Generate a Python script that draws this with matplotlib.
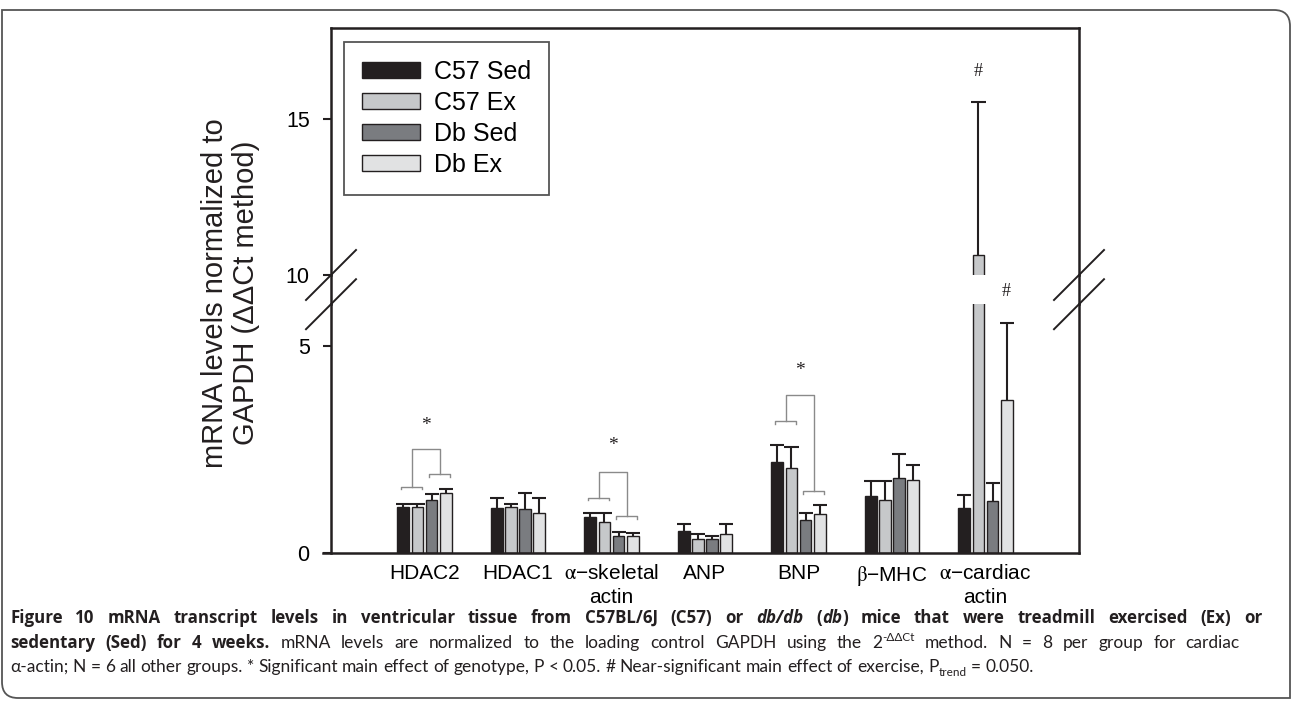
import matplotlib
matplotlib.use("Agg")
import matplotlib.pyplot as plt
import numpy as np
from matplotlib.path import Path
from matplotlib.patches import PathPatch
from matplotlib.lines import Line2D
from matplotlib.transforms import IdentityTransform

# ---------------- data ----------------
categories = ["HDAC2", "HDAC1", r"$\mathrm{\alpha}$−skeletal" + "\nactin", "ANP", "BNP",
              r"$\mathrm{\beta}$−MHC", r"$\mathrm{\alpha}$−cardiac" + "\nactin"]
series = ["C57 Sed", "C57 Ex", "Db Sed", "Db Ex"]
c57_sed = [1.09, 1.07, 0.85, 0.52, 2.18, 1.36, 1.07]
c57_ex = [1.11, 1.09, 0.74, 0.32, 2.04, 1.26, 10.64]
db_sed = [1.27, 1.06, 0.41, 0.33, 0.79, 1.79, 1.25]
db_ex = [1.43, 0.96, 0.40, 0.46, 0.94, 1.76, 3.68]
c57_sed_err = [0.09, 0.24, 0.10, 0.16, 0.42, 0.37, 0.32]
c57_ex_err = [0.07, 0.08, 0.22, 0.14, 0.51, 0.47, 4.93]
db_sed_err = [0.14, 0.39, 0.09, 0.08, 0.16, 0.59, 0.44]
db_ex_err = [0.10, 0.37, 0.08, 0.22, 0.21, 0.35, 1.87]

# genotype significance brackets (group index, left/right small bracket, top, star)
sig_groups = [0, 2, 4]
sig_left_y = [1.59, 1.33, 3.18]
sig_right_y = [1.89, 0.88, 1.49]
sig_top_y = [2.51, 1.95, 3.80]
sig_star_y = [3.06, 2.58, 4.39]

# near-significant exercise marks: (group, series, y)
hash_marks = [(6, 1, 16.53), (6, 3, 6.30)]

means = [c57_sed, c57_ex, db_sed, db_ex]
errs = [c57_sed_err, c57_ex_err, db_sed_err, db_ex_err]
colors = ["#231f20", "#c6c8ca", "#7a7c80", "#e1e2e3"]
edge = "#231f20"

plt.rcParams["font.family"] = ["Liberation Sans", "DejaVu Sans"]
plt.rcParams["mathtext.fontset"] = "stix"

W, H = 1293, 701
fig = plt.figure(figsize=(W / 100, H / 100), dpi=100)

L, R = 331, 1079
low_bot, low_top = 552.6, 304.2
up_bot, up_top = 275.0, 28.0
up_scale = 31.14  # px per unit in upper panel

ax_low = fig.add_axes([L / W, 1 - low_bot / H, (R - L) / W, (low_bot - low_top) / H])
ax_up = fig.add_axes([L / W, 1 - up_bot / H, (R - L) / W, (up_bot - up_top) / H])

ax_low.set_ylim(0, 6)
ax_up.set_ylim(10, 10 + (up_bot - up_top) / up_scale)
for ax in (ax_low, ax_up):
    ax.set_xlim(-1, 7)
    ax.patch.set_alpha(0)

x = np.arange(len(categories))
step, width = 0.15, 0.128
offsets = (np.arange(4) - 1.5) * step

handles = []
for ax in (ax_low, ax_up):
    for k in range(4):
        b = ax.bar(x + offsets[k], means[k], width=width, color=colors[k],
                   edgecolor=edge, linewidth=1.0, label=series[k], zorder=2)
        if ax is ax_up:
            handles.append(b)
        tops = np.array(means[k]) + np.array(errs[k])
        ax.vlines(x + offsets[k], means[k], tops, color=edge, lw=1.5, zorder=3)
        ax.hlines(tops, x + offsets[k] - step / 2, x + offsets[k] + step / 2,
                  color=edge, lw=1.5, zorder=3)

# spines
sw = 1.8
ax_low.spines["top"].set_visible(False)
ax_up.spines["bottom"].set_visible(False)
for ax in (ax_low, ax_up):
    for s in ax.spines.values():
        s.set_linewidth(sw)
        s.set_color("#231f20")

ax_low.set_yticks([0, 5])
ax_up.set_yticks([10, 15])
for ax in (ax_low, ax_up):
    ax.tick_params(axis="y", direction="out", length=5.8, width=1.5, pad=9.5,
                   labelsize=15.5, color="#231f20")
ax_up.tick_params(axis="x", bottom=False, labelbottom=False)
ax_low.set_xticks(x)
ax_low.set_xticklabels(categories, fontsize=15, linespacing=1.3)
ax_low.tick_params(axis="x", length=0, pad=8.5)
ax_low.spines["bottom"].set_bounds(-1.09, 7)

# brackets
gc = "#8a8a8a"
leg = 0.065
for g, yl, yr, yt, ys in zip(sig_groups, sig_left_y, sig_right_y, sig_top_y, sig_star_y):
    l0, l1 = g - 0.25, g - 0.025
    r0, r1 = g + 0.05, g + 0.275
    ax_low.plot([l0, l0, l1, l1], [yl - leg, yl, yl, yl - leg], color=gc, lw=1.0)
    ax_low.plot([r0, r0, r1, r1], [yr - leg, yr, yr, yr - leg], color=gc, lw=1.0)
    lm, rm = (l0 + l1) / 2, (r0 + r1) / 2
    ax_low.plot([lm, lm, rm, rm], [yl, yt, yt, yr], color=gc, lw=1.0)
    ax_low.text((lm + rm) / 2, ys, "*", ha="center", va="center", fontsize=14,
                family="Liberation Serif", color="#231f20")

for g, s, yv in hash_marks:
    ax = ax_up if yv >= 10 else ax_low
    ax.text(g + offsets[s], yv, "#", ha="center", va="center", fontsize=13,
            family="Liberation Serif", color="#231f20", clip_on=False)

# legend
lg = ax_up.legend(handles=handles, labels=series, loc="upper left",
                  bbox_to_anchor=(344.3 / W, 1 - 41.7 / H), bbox_transform=fig.transFigure,
                  borderaxespad=0, fontsize=18, frameon=True, fancybox=False,
                  edgecolor="#555555", framealpha=1, handlelength=2.3, handleheight=0.64,
                  handletextpad=0.58, labelspacing=0.28, borderpad=0.72)
lg.get_frame().set_linewidth(1.3)

# y label
fig.text(230.5 / W, 1 - 293 / H, "mRNA levels normalized to\nGAPDH (ΔΔCt method)",
         rotation=90, ha="center", va="center", fontsize=21, linespacing=1.12,
         multialignment="center", color="#231f20")

# continuous spines through the gap + break marks
def px(xp, yp):
    return xp / W, 1 - yp / H

for xs in (L, R):
    x0, y0 = px(xs, up_bot)
    x1, y1 = px(xs, low_top)
    fig.add_artist(Line2D([x0, x1], [y0, y1], transform=fig.transFigure,
                          color="#231f20", lw=sw))
    for yc in (up_bot, low_top):
        a = px(xs - 25, yc + 25)
        b = px(xs + 25, yc - 25)
        fig.add_artist(Line2D([a[0], b[0]], [a[1], b[1]], transform=fig.transFigure,
                              color="#231f20", lw=1.4))

# frame with rounded top-right and bottom-left corners
fx0, fx1, fy0, fy1, rr = 2, 1290, 10, 698, 16
verts = [(fx0, fy0), (fx1 - rr, fy0), (fx1, fy0), (fx1, fy0 + rr), (fx1, fy1),
         (fx0 + rr, fy1), (fx0, fy1), (fx0, fy1 - rr), (fx0, fy0)]
codes = [Path.MOVETO, Path.LINETO, Path.CURVE3, Path.CURVE3, Path.LINETO,
         Path.LINETO, Path.CURVE3, Path.CURVE3, Path.CLOSEPOLY]
verts_d = [(vx, H - vy) for vx, vy in verts]
fig.add_artist(PathPatch(Path(verts_d, codes), transform=IdentityTransform(),
                         facecolor="none", edgecolor="#555555", lw=1.3))

# caption (word-by-word so lines can be justified)
renderer = fig.canvas.get_renderer()
cap_font = "Lato"
bold_font = "Open Sans"
cap_size = 12.5
B = dict(weight="bold", font=bold_font, size=12.2)
BI = dict(weight="bold", style="italic", font=bold_font, size=12.2)
N = dict()
SUP = dict(size=8.5, rise=7)
SUB = dict(size=8.5, rise=-3.5)


def tokens(runs):
    out = []
    for text, kw, attach in runs:
        words = text.split(" ")
        for i, w in enumerate(words):
            if w == "":
                continue
            out.append((w, kw, attach if i == 0 else False))
    return out


def make_text(word, kw, xp, ybase):
    kw = dict(kw)
    rise = kw.pop("rise", 0)
    size = kw.pop("size", cap_size)
    fam = kw.pop("font", cap_font)
    return fig.text(xp / W, 1 - (ybase - rise) / H, word, ha="left", va="baseline",
                    fontsize=size, family=[fam, "DejaVu Sans"], color="#231f20", **kw)


def draw_line(runs, x0, ybase, right=None):
    toks = tokens(runs)
    widths = []
    for w, kw, _ in toks:
        t = make_text(w, kw, 0, ybase)
        widths.append(t.get_window_extent(renderer).width)
        t.remove()
    n_gaps = sum(1 for i, tk in enumerate(toks) if i > 0 and not tk[2])
    gap = 0.25 * cap_size * 100 / 72
    if right is not None and n_gaps:
        gap = max(gap, (right - x0 - sum(widths)) / n_gaps)
    xcur = x0
    for i, ((w, kw, attach), wd) in enumerate(zip(toks, widths)):
        if i > 0 and not attach:
            xcur += gap
        make_text(w, kw, xcur, ybase)
        xcur += wd


draw_line([("Figure 10 mRNA transcript levels in ventricular tissue from C57BL/6J (C57) or", B, False),
           ("db/db", BI, False), ("(", B, False), ("db", BI, True), (")", B, True),
           ("mice that were treadmill exercised (Ex) or", B, False)], 10, 623, right=1262)
draw_line([("sedentary (Sed) for 4 weeks.", B, False),
           ("mRNA levels are normalized to the loading control GAPDH using the 2", N, False),
           ("-ΔΔCt", SUP, True),
           ("method. N = 8 per group for cardiac", N, False)], 10, 648, right=1240)
draw_line([("α-actin; N = 6 all other groups. * Significant main effect of genotype, P < 0.05. "
            "# Near-significant main effect of exercise, P", N, False),
           ("trend", SUB, True), ("= 0.050.", N, False)], 10, 672)

fig.savefig("out.png", dpi=100)
